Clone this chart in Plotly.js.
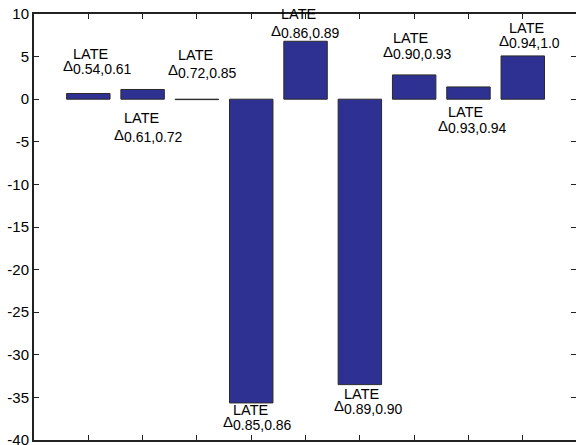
<!DOCTYPE html>
<html>
<head>
<meta charset="utf-8">
<script src="https://cdn.plot.ly/plotly-3.0.1.min.js"></script>
<style>
  html, body { margin: 0; padding: 0; background: #fff; }
  #chart { width: 576px; height: 445px; }
</style>
</head>
<body>
<div id="chart"></div>
<script>
// Bar positions and LATE differences between adjacent propensity intervals
const positions = [1, 2, 3, 4, 5, 6, 7, 8, 9];
const lateDiffs = [0.67, 1.14, -0.05, -35.65, 6.8, -33.5, 2.85, 1.44, 5.08];

// Interval subscripts for each Δ^LATE label
const intervals = ["0.54,0.61", "0.61,0.72", "0.72,0.85", "0.85,0.86", "0.86,0.89",
                   "0.89,0.90", "0.90,0.93", "0.93,0.94", "0.94,1.0"];

// Label anchors in data units: left edge of Δ, centre of subscript row, centre of "LATE" row
const labelX = [0.51, 1.455, 2.444, 3.457, 4.346, 5.506, 6.403, 7.416, 8.545];
const subY   = [3.55, -4.45, 3.11, -38.22, 7.74, -36.34, 5.28, -3.40, 6.57];
const lateY  = [5.28, -2.17, 5.16, -36.42, 9.96, -34.62, 7.21, -1.47, 8.38];

// Y axis ticks
const yTickVals = [10, 5, 0, -5, -10, -15, -20, -25, -30, -35, -40];
const yTickText = ["10", "5", "0", "-5", "-10", "-15", "-20", "-25", "-30", "-35", "-40"];
const xTickVals = [1, 2, 3, 4, 5, 6, 7, 8, 9, 10];

const FONT = "Arial, 'Liberation Sans', Helvetica, sans-serif";

const bars = {
  type: "bar",
  x: positions,
  y: lateDiffs,
  width: 0.8,
  marker: { color: "#2e3192", line: { color: "#2a2a2a", width: 1 } },
  hoverinfo: "skip"
};

// invisible trace carrying the right-hand tick axis
const rightTicks = {
  type: "scatter", x: [positions[0]], y: [0], yaxis: "y2",
  mode: "markers", marker: { opacity: 0 }, hoverinfo: "skip", showlegend: false
};

const annotations = [];
intervals.forEach((iv, i) => {
  const base = { xref: "x", yref: "y", showarrow: false, xanchor: "left", yanchor: "middle", borderpad: 0 };
  annotations.push(Object.assign({}, base, {
    x: labelX[i], y: subY[i], yshift: 3, text: "Δ",
    font: { family: FONT, size: 15, color: "#000" }
  }));
  annotations.push(Object.assign({}, base, {
    x: labelX[i], y: subY[i], xshift: 10, text: iv,
    font: { family: FONT, size: 14, color: "#000" }
  }));
  annotations.push(Object.assign({}, base, {
    x: labelX[i], y: lateY[i], xshift: 10, text: "LATE",
    font: { family: FONT, size: 14.5, color: "#000" }
  }));
});

const layout = {
  width: 576,
  height: 445,
  margin: { l: 34, r: 0, t: 14, b: 5, pad: 0 },
  paper_bgcolor: "#fff",
  plot_bgcolor: "#fff",
  showlegend: false,
  font: { family: FONT, size: 15, color: "#000" },
  xaxis: {
    range: [0, 9.98],
    tickvals: xTickVals,
    showticklabels: false,
    ticks: "inside",
    ticklen: 5,
    tickwidth: 1,
    tickcolor: "#222",
    showline: true,
    linecolor: "#222",
    linewidth: 2,
    mirror: "ticks",
    showgrid: false,
    zeroline: false,
    fixedrange: true
  },
  yaxis: {
    range: [-40, 10],
    tickvals: yTickVals,
    ticktext: yTickText,
    ticks: "inside",
    ticklen: 5,
    tickwidth: 1,
    tickcolor: "#222",
    tickfont: { family: FONT, size: 15, color: "#000" },
    ticklabeloverflow: "allow",
    showline: true,
    linecolor: "#222",
    linewidth: 2,
    showgrid: false,
    zeroline: false,
    fixedrange: true
  },
  yaxis2: {
    overlaying: "y",
    side: "right",
    range: [-40, 10],
    tickvals: yTickVals,
    showticklabels: false,
    ticks: "inside",
    ticklen: 5,
    tickwidth: 1,
    tickcolor: "#222",
    showline: false,
    showgrid: false,
    zeroline: false,
    fixedrange: true
  },
  annotations: annotations
};

Plotly.newPlot("chart", [bars, rightTicks], layout, { staticPlot: true, displayModeBar: false });
</script>
</body>
</html>
